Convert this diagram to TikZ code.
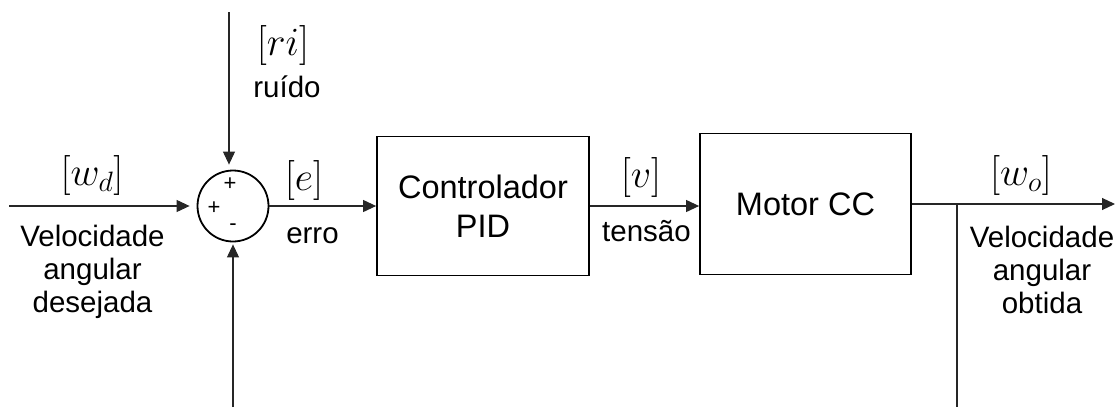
\RequirePackage{fix-cm}
\documentclass[tikz,border=0pt]{standalone}
\usepackage[no-math]{fontspec}
\setmainfont{Liberation Sans}
\usetikzlibrary{arrows.meta}

\tikzset{
  blk/.style={draw, line width=1.8pt, rectangle, inner sep=0pt, align=center,
              font=\fontsize{32.5}{39}\selectfont},
  summer/.style={draw, line width=1.8pt, circle, inner sep=0pt, minimum size=71pt},
  sig/.style={line width=1.1pt, draw=black!85},
  arr/.style={sig, -{Triangle[length=13pt,width=12pt]}},
  lbl/.style={inner sep=0pt, font=\fontsize{29.5}{33}\selectfont, align=center},
  mlbl/.style={inner sep=0pt, font=\fontsize{40}{40}\selectfont},
  signs/.style={inner sep=0pt, font=\fontsize{22}{22}\selectfont}
}

\begin{document}
\begin{tikzpicture}[x=1pt, y=-1pt]
  \useasboundingbox (0,0) rectangle (1119,407);

  % blocks
  \node[summer] (sum) at (233,206) {};
  \node[blk, minimum width=212pt, minimum height=139pt] (pid) at (483,206) {Controlador\\PID};
  \node[blk, minimum width=211pt, minimum height=141pt] (motor) at (805.5,204) {Motor CC};

  % summing junction signs
  \node[signs] (ptop) at (230,184) {+};
  \node[signs] (pleft) at (214,208) {+};
  \node[signs] (mbot) at (233,227) {-};

  % free ends of the signals
  \coordinate (in) at (9,206);
  \coordinate (noise) at (229,12);
  \coordinate (fb) at (233,407);
  \coordinate (out) at (1115,204);
  \coordinate (tap) at (957,204);
  \coordinate (tapend) at (957,407);

  % signal lines
  \draw[arr, shorten >=7pt] (in) -- (sum.west);
  \draw[arr, shorten >=5pt] (noise) -- (noise |- sum.north);
  \draw[arr, shorten >=2pt] (fb) -- (sum.south);
  \draw[arr] (sum.east) -- (sum.east -| pid.west);
  \draw[arr] (pid.east) -- (pid.east -| motor.west);
  \draw[arr] (motor.east) -- (out);
  \draw[sig] (tap) -- (tapend);

  % signal names
  \node[mlbl] (wd) at (92,175) {$[w_d]$};
  \node[mlbl] (ri) at (283,45) {$[ri]$};
  \node[mlbl] (e) at (304,180) {$[e]$};
  \node[mlbl] (v) at (641,177) {$[v]$};
  \node[mlbl] (wo) at (1021,175) {$[w_o]$};

  % descriptions
  \node[lbl, anchor=north] (wdtxt) at (92.5,225) {Velocidade\\angular\\desejada};
  \node[lbl, anchor=base] (ritxt) at (287,97) {ruído};
  \node[lbl, anchor=base] (etxt) at (312.5,243) {erro};
  \node[lbl, anchor=base] (vtxt) at (646.5,241) {tensão};
  \node[lbl, anchor=north] (wotxt) at (1042,226) {Velocidade\\angular\\obtida};
\end{tikzpicture}
\end{document}
